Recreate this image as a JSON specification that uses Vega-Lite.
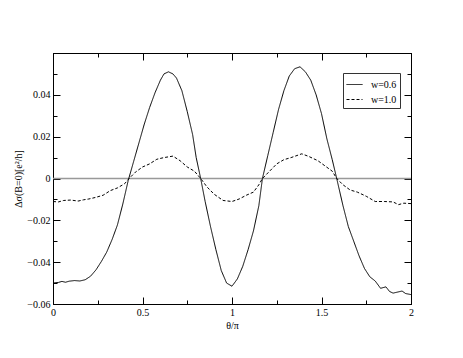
{
  "$schema": "https://vega.github.io/schema/vega-lite/v6.json",
  "autosize": {"type": "none"},
  "padding": {"left": 53, "top": 53, "right": 52, "bottom": 54},
  "width": 358,
  "height": 251,
  "background": "white",
  "config": {
    "view": {"stroke": "black", "strokeWidth": 1},
    "font": "Liberation Serif",
    "axis": {
      "labelFont": "Liberation Serif",
      "titleFont": "Liberation Serif",
      "labelFontSize": 10,
      "titleFontSize": 10,
      "titleFontWeight": "normal",
      "labelColor": "black",
      "titleColor": "black",
      "tickColor": "black",
      "domainColor": "black",
      "grid": false
    }
  },
  "datasets": {
    "curves": [
      {"theta": 0.00, "v": -0.0500, "series": "w=0.6"},
      {"theta": 0.03, "v": -0.0497, "series": "w=0.6"},
      {"theta": 0.05, "v": -0.0492, "series": "w=0.6"},
      {"theta": 0.07, "v": -0.0496, "series": "w=0.6"},
      {"theta": 0.09, "v": -0.0491, "series": "w=0.6"},
      {"theta": 0.12, "v": -0.0488, "series": "w=0.6"},
      {"theta": 0.15, "v": -0.0490, "series": "w=0.6"},
      {"theta": 0.18, "v": -0.0484, "series": "w=0.6"},
      {"theta": 0.21, "v": -0.0467, "series": "w=0.6"},
      {"theta": 0.24, "v": -0.0437, "series": "w=0.6"},
      {"theta": 0.27, "v": -0.0397, "series": "w=0.6"},
      {"theta": 0.30, "v": -0.0352, "series": "w=0.6"},
      {"theta": 0.33, "v": -0.0292, "series": "w=0.6"},
      {"theta": 0.36, "v": -0.0222, "series": "w=0.6"},
      {"theta": 0.39, "v": -0.0122, "series": "w=0.6"},
      {"theta": 0.42, "v": -0.0010, "series": "w=0.6"},
      {"theta": 0.45, "v": 0.0080, "series": "w=0.6"},
      {"theta": 0.48, "v": 0.0170, "series": "w=0.6"},
      {"theta": 0.51, "v": 0.0260, "series": "w=0.6"},
      {"theta": 0.54, "v": 0.0340, "series": "w=0.6"},
      {"theta": 0.57, "v": 0.0410, "series": "w=0.6"},
      {"theta": 0.60, "v": 0.0470, "series": "w=0.6"},
      {"theta": 0.62, "v": 0.0500, "series": "w=0.6"},
      {"theta": 0.645, "v": 0.0510, "series": "w=0.6"},
      {"theta": 0.67, "v": 0.0500, "series": "w=0.6"},
      {"theta": 0.69, "v": 0.0480, "series": "w=0.6"},
      {"theta": 0.72, "v": 0.0420, "series": "w=0.6"},
      {"theta": 0.75, "v": 0.0320, "series": "w=0.6"},
      {"theta": 0.78, "v": 0.0210, "series": "w=0.6"},
      {"theta": 0.80, "v": 0.0100, "series": "w=0.6"},
      {"theta": 0.825, "v": 0.0000, "series": "w=0.6"},
      {"theta": 0.85, "v": -0.0110, "series": "w=0.6"},
      {"theta": 0.88, "v": -0.0230, "series": "w=0.6"},
      {"theta": 0.91, "v": -0.0340, "series": "w=0.6"},
      {"theta": 0.94, "v": -0.0440, "series": "w=0.6"},
      {"theta": 0.97, "v": -0.0500, "series": "w=0.6"},
      {"theta": 1.00, "v": -0.0515, "series": "w=0.6"},
      {"theta": 1.03, "v": -0.0480, "series": "w=0.6"},
      {"theta": 1.06, "v": -0.0420, "series": "w=0.6"},
      {"theta": 1.09, "v": -0.0340, "series": "w=0.6"},
      {"theta": 1.12, "v": -0.0250, "series": "w=0.6"},
      {"theta": 1.15, "v": -0.0130, "series": "w=0.6"},
      {"theta": 1.17, "v": 0.0000, "series": "w=0.6"},
      {"theta": 1.20, "v": 0.0110, "series": "w=0.6"},
      {"theta": 1.23, "v": 0.0220, "series": "w=0.6"},
      {"theta": 1.26, "v": 0.0330, "series": "w=0.6"},
      {"theta": 1.29, "v": 0.0420, "series": "w=0.6"},
      {"theta": 1.32, "v": 0.0490, "series": "w=0.6"},
      {"theta": 1.35, "v": 0.0525, "series": "w=0.6"},
      {"theta": 1.38, "v": 0.0534, "series": "w=0.6"},
      {"theta": 1.41, "v": 0.0510, "series": "w=0.6"},
      {"theta": 1.44, "v": 0.0470, "series": "w=0.6"},
      {"theta": 1.47, "v": 0.0400, "series": "w=0.6"},
      {"theta": 1.50, "v": 0.0310, "series": "w=0.6"},
      {"theta": 1.53, "v": 0.0190, "series": "w=0.6"},
      {"theta": 1.56, "v": 0.0090, "series": "w=0.6"},
      {"theta": 1.585, "v": 0.0000, "series": "w=0.6"},
      {"theta": 1.62, "v": -0.0130, "series": "w=0.6"},
      {"theta": 1.65, "v": -0.0230, "series": "w=0.6"},
      {"theta": 1.68, "v": -0.0300, "series": "w=0.6"},
      {"theta": 1.71, "v": -0.0370, "series": "w=0.6"},
      {"theta": 1.74, "v": -0.0430, "series": "w=0.6"},
      {"theta": 1.77, "v": -0.0470, "series": "w=0.6"},
      {"theta": 1.80, "v": -0.0490, "series": "w=0.6"},
      {"theta": 1.83, "v": -0.0525, "series": "w=0.6"},
      {"theta": 1.86, "v": -0.0518, "series": "w=0.6"},
      {"theta": 1.88, "v": -0.0540, "series": "w=0.6"},
      {"theta": 1.90, "v": -0.0548, "series": "w=0.6"},
      {"theta": 1.93, "v": -0.0542, "series": "w=0.6"},
      {"theta": 1.95, "v": -0.0538, "series": "w=0.6"},
      {"theta": 1.97, "v": -0.0550, "series": "w=0.6"},
      {"theta": 2.00, "v": -0.0555, "series": "w=0.6"},

      {"theta": 0.00, "v": -0.0110, "series": "w=1.0"},
      {"theta": 0.03, "v": -0.0112, "series": "w=1.0"},
      {"theta": 0.06, "v": -0.0105, "series": "w=1.0"},
      {"theta": 0.10, "v": -0.0103, "series": "w=1.0"},
      {"theta": 0.14, "v": -0.0108, "series": "w=1.0"},
      {"theta": 0.17, "v": -0.0102, "series": "w=1.0"},
      {"theta": 0.20, "v": -0.0098, "series": "w=1.0"},
      {"theta": 0.24, "v": -0.0090, "series": "w=1.0"},
      {"theta": 0.28, "v": -0.0080, "series": "w=1.0"},
      {"theta": 0.32, "v": -0.0058, "series": "w=1.0"},
      {"theta": 0.36, "v": -0.0045, "series": "w=1.0"},
      {"theta": 0.40, "v": -0.0025, "series": "w=1.0"},
      {"theta": 0.425, "v": 0.0000, "series": "w=1.0"},
      {"theta": 0.46, "v": 0.0030, "series": "w=1.0"},
      {"theta": 0.50, "v": 0.0055, "series": "w=1.0"},
      {"theta": 0.54, "v": 0.0070, "series": "w=1.0"},
      {"theta": 0.58, "v": 0.0092, "series": "w=1.0"},
      {"theta": 0.62, "v": 0.0100, "series": "w=1.0"},
      {"theta": 0.67, "v": 0.0107, "series": "w=1.0"},
      {"theta": 0.71, "v": 0.0085, "series": "w=1.0"},
      {"theta": 0.75, "v": 0.0055, "series": "w=1.0"},
      {"theta": 0.79, "v": 0.0035, "series": "w=1.0"},
      {"theta": 0.825, "v": 0.0000, "series": "w=1.0"},
      {"theta": 0.86, "v": -0.0040, "series": "w=1.0"},
      {"theta": 0.90, "v": -0.0075, "series": "w=1.0"},
      {"theta": 0.95, "v": -0.0105, "series": "w=1.0"},
      {"theta": 1.00, "v": -0.0110, "series": "w=1.0"},
      {"theta": 1.04, "v": -0.0098, "series": "w=1.0"},
      {"theta": 1.08, "v": -0.0080, "series": "w=1.0"},
      {"theta": 1.12, "v": -0.0065, "series": "w=1.0"},
      {"theta": 1.15, "v": -0.0030, "series": "w=1.0"},
      {"theta": 1.17, "v": 0.0000, "series": "w=1.0"},
      {"theta": 1.21, "v": 0.0035, "series": "w=1.0"},
      {"theta": 1.25, "v": 0.0070, "series": "w=1.0"},
      {"theta": 1.29, "v": 0.0090, "series": "w=1.0"},
      {"theta": 1.33, "v": 0.0100, "series": "w=1.0"},
      {"theta": 1.39, "v": 0.0118, "series": "w=1.0"},
      {"theta": 1.43, "v": 0.0105, "series": "w=1.0"},
      {"theta": 1.48, "v": 0.0085, "series": "w=1.0"},
      {"theta": 1.52, "v": 0.0060, "series": "w=1.0"},
      {"theta": 1.56, "v": 0.0035, "series": "w=1.0"},
      {"theta": 1.585, "v": 0.0000, "series": "w=1.0"},
      {"theta": 1.62, "v": -0.0030, "series": "w=1.0"},
      {"theta": 1.66, "v": -0.0055, "series": "w=1.0"},
      {"theta": 1.70, "v": -0.0065, "series": "w=1.0"},
      {"theta": 1.75, "v": -0.0085, "series": "w=1.0"},
      {"theta": 1.80, "v": -0.0110, "series": "w=1.0"},
      {"theta": 1.85, "v": -0.0110, "series": "w=1.0"},
      {"theta": 1.90, "v": -0.0112, "series": "w=1.0"},
      {"theta": 1.93, "v": -0.0125, "series": "w=1.0"},
      {"theta": 1.96, "v": -0.0118, "series": "w=1.0"},
      {"theta": 2.00, "v": -0.0120, "series": "w=1.0"}
    ],
    "zero": [{"v": 0}]
  },
  "layer": [
    {
      "data": {"name": "zero"},
      "mark": {"type": "rule", "color": "#999999", "strokeWidth": 1.5},
      "encoding": {
        "y": {
          "field": "v",
          "type": "quantitative",
          "scale": {"domain": [-0.06, 0.06], "nice": false, "zero": false},
          "axis": {
            "orient": "left",
            "title": "Δσ(B=0)[e²/h]",
            "titlePadding": 3,
            "values": [-0.06, -0.05, -0.04, -0.03, -0.02, -0.01, 0, 0.01, 0.02, 0.03, 0.04, 0.05, 0.06],
            "format": ".2~f",
            "labelExpr": "(abs(round(datum.value*100)) % 2 == 0 && datum.value < 0.055) ? datum.label : ''",
            "tickSize": {"condition": {"test": "abs(round(datum.value*100)) % 2 == 0", "value": -7}, "value": -4},
            "labelPadding": 10
          }
        }
      }
    },
    {
      "data": {"name": "curves"},
      "mark": {"type": "line", "color": "black", "strokeWidth": 1, "clip": true},
      "encoding": {
        "x": {
          "field": "theta",
          "type": "quantitative",
          "scale": {"domain": [0, 2], "nice": false, "zero": false},
          "axis": {
            "orient": "bottom",
            "title": "θ/π",
            "titlePadding": 3,
            "values": [0, 0.25, 0.5, 0.75, 1, 1.25, 1.5, 1.75, 2],
            "format": "~g",
            "labelExpr": "(round(datum.value*4) % 2 == 0) ? datum.label : ''",
            "tickSize": {"condition": {"test": "round(datum.value*4) % 2 == 0", "value": -7}, "value": -4},
            "labelPadding": 10,
            "labelFlush": false
          }
        },
        "y": {"field": "v", "type": "quantitative", "axis": null},
        "detail": {"field": "series"},
        "strokeDash": {
          "field": "series",
          "type": "nominal",
          "scale": {"domain": ["w=0.6", "w=1.0"], "range": [[1, 0], [3, 2]]},
          "legend": {
            "title": null,
            "orient": "none",
            "legendX": 290,
            "legendY": 20,
            "strokeColor": "#333333",
            "padding": 3,
            "rowPadding": 1,
            "symbolType": "stroke",
            "symbolSize": 256,
            "symbolStrokeWidth": 1,
            "symbolStrokeColor": "black",
            "labelFont": "Liberation Serif",
            "labelFontSize": 10,
            "labelColor": "black",
            "labelOffset": 8
          }
        }
      }
    },
    {
      "data": {"name": "zero"},
      "mark": {"type": "rule", "opacity": 0},
      "encoding": {
        "x": {
          "datum": 0,
          "type": "quantitative",
          "axis": {
            "orient": "top",
            "title": null,
            "labels": false,
            "values": [0, 0.25, 0.5, 0.75, 1, 1.25, 1.5, 1.75, 2],
            "tickSize": {"condition": {"test": "round(datum.value*4) % 2 == 0", "value": -7}, "value": -4}
          }
        },
        "y": {
          "datum": 0,
          "type": "quantitative",
          "axis": {
            "orient": "right",
            "title": null,
            "labels": false,
            "values": [-0.06, -0.05, -0.04, -0.03, -0.02, -0.01, 0, 0.01, 0.02, 0.03, 0.04, 0.05, 0.06],
            "tickSize": {"condition": {"test": "abs(round(datum.value*100)) % 2 == 0", "value": -7}, "value": -4}
          }
        }
      }
    }
  ],
  "resolve": {"axis": {"x": "independent", "y": "independent"}}
}
